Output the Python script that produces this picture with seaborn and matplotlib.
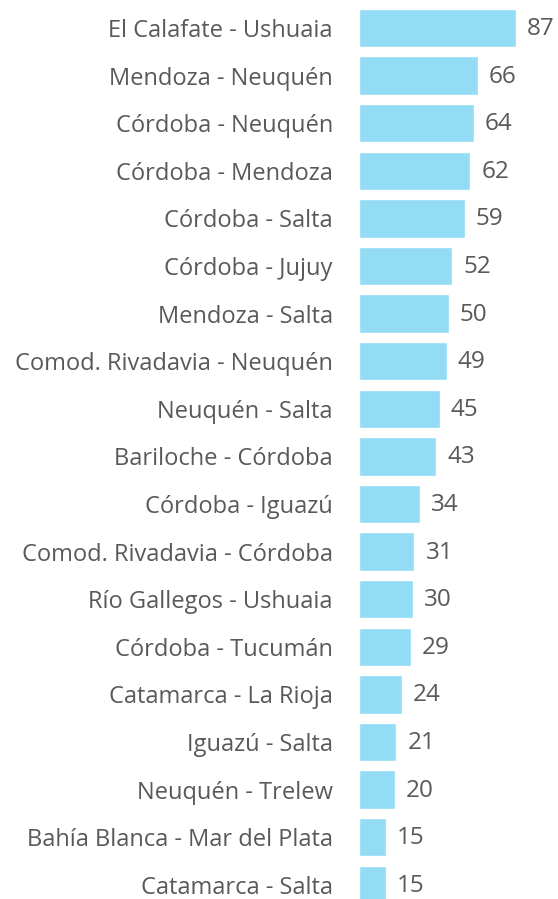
import matplotlib
matplotlib.use("Agg")
import matplotlib.pyplot as plt
import seaborn as sns
import pandas as pd

routes = [
    "El Calafate - Ushuaia", "Mendoza - Neuquén", "Córdoba - Neuquén",
    "Córdoba - Mendoza", "Córdoba - Salta", "Córdoba - Jujuy",
    "Mendoza - Salta", "Comod. Rivadavia - Neuquén", "Neuquén - Salta",
    "Bariloche - Córdoba", "Córdoba - Iguazú", "Comod. Rivadavia - Córdoba",
    "Río Gallegos - Ushuaia", "Córdoba - Tucumán", "Catamarca - La Rioja",
    "Iguazú - Salta", "Neuquén - Trelew", "Bahía Blanca - Mar del Plata",
    "Catamarca - Salta",
]
values = [87, 66, 64, 62, 59, 52, 50, 49, 45, 43, 34, 31, 30, 29, 24, 21, 20, 15, 15]

df = pd.DataFrame({"route": routes, "value": values})

sns.set_theme(style="white")
plt.rcParams["font.family"] = ["Open Sans", "DejaVu Sans"]

W, H = 558, 899
fig = plt.figure(figsize=(W / 100, H / 100), dpi=100)
step = 47.6
top_px = 28.0 - step / 2
bot_px = 28.0 + 18 * step + step / 2
left_px = 358.5
ax = fig.add_axes([left_px / W, (H - bot_px) / H, (W - left_px) / W, (bot_px - top_px) / H])

sns.barplot(data=df, x="value", y="route", orient="h", color="#93dcf5",
            saturation=1, width=0.81, ax=ax)

xmax = 87 * (W - left_px) / 157.0
ax.set_xlim(0, xmax)
ax.set_ylim(len(routes) - 0.5, -0.5)

for i, v in enumerate(values):
    ax.text(v + 11 * xmax / (W - left_px), i + 0.02, f"{v}", va="center", ha="left",
            fontsize=17.5, color="#595959")

ax.set_xlabel("")
ax.set_ylabel("")
ax.set_xticks([])
ax.tick_params(axis="y", length=0, pad=18.5, labelsize=17, labelcolor="#595959")
for s in ax.spines.values():
    s.set_visible(False)

fig.savefig("out.png", dpi=100)
